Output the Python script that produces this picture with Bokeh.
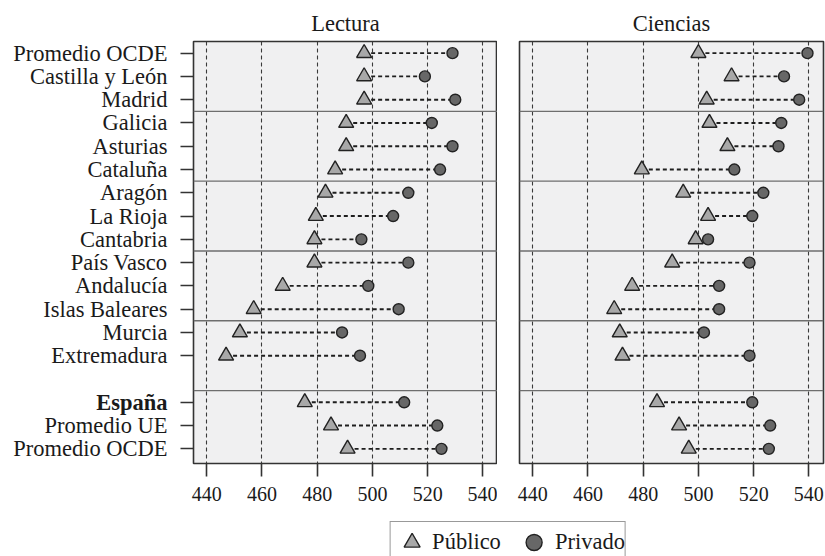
from bokeh.plotting import figure
from bokeh.layouts import column, row
from bokeh.models import Range1d, FixedTicker, Span
from bokeh.embed import file_html
from bokeh.resources import INLINE

# ---- data ----
groups = [
    ["Promedio OCDE", "Castilla y León", "Madrid"],
    ["Galicia", "Asturias", "Cataluña"],
    ["Aragón", "La Rioja", "Cantabria"],
    ["País Vasco", "Andalucía", "Islas Baleares"],
    ["Murcia", "Extremadura"],
    ["España", "Promedio UE", "Promedio OCDE"],
]
bold_label = "España"

lectura_publico = [497, 497, 497, 490.5, 490.5, 486.5, 483, 479.5, 479, 479, 467.5, 457, 452, 447, 475.5, 485, 491]
lectura_privado = [529, 519, 530, 521.5, 529, 524.5, 513, 507.5, 496, 513, 498.5, 509.5, 489, 495.5, 511.5, 523.5, 525]
ciencias_publico = [500, 512, 503, 504, 510.5, 479.5, 494.5, 503.5, 499, 490.5, 476, 469.5, 471.5, 472.5, 485, 493, 496.5]
ciencias_privado = [539.5, 531, 536.5, 530, 529, 513, 523.5, 519.5, 503.5, 518.5, 507.5, 507.5, 502, 518.5, 519.5, 526, 525.5]

x_ticks = [440, 460, 480, 500, 520, 540]
panel_titles = ["Lectura", "Ciencias"]
legend_labels = ["Público", "Privado"]

# ---- derived positions ----
names, ys = [], []
for g, grp in enumerate(groups):
    for i, n in enumerate(grp):
        names.append(n)
        ys.append(3 * g + i)
separators = [3 * g - 0.5 for g in range(1, len(groups))]

FONT = "Liberation Serif"
TXT = "#1a1a1a"
DARK = "#333333"
TOP, FRAME_H, BOTTOM = 41, 422, 52
PANEL_H = TOP + FRAME_H + BOTTOM

y_range = Range1d(17.63, -0.5)

# ---- y labels (separate strip, so one label can be bold) ----
p0 = figure(width=178, height=PANEL_H, x_range=Range1d(0, 1), y_range=y_range,
            output_backend="svg", toolbar_location=None, tools="",
            x_axis_location=None, y_axis_location=None,
            min_border_left=0, min_border_right=0,
            min_border_top=TOP, min_border_bottom=BOTTOM,
            outline_line_color=None)
p0.xgrid.grid_line_color = None
p0.ygrid.grid_line_color = None
for style in ["normal", "bold"]:
    sel = [k for k, n in enumerate(names) if (n == bold_label) == (style == "bold")]
    p0.text(x=[p0.x_range.end] * len(sel), y=[ys[k] for k in sel],
            text=[names[k] for k in sel], x_offset=-11,
            text_align="right", text_baseline="middle",
            text_font={"value": FONT}, text_font_size="22.5px",
            text_font_style=style, text_color=TXT)


def make_panel(title, pub, priv, left):
    p = figure(
        width=(15 + 304 + 0) if left else (22 + 304 + 2), height=PANEL_H,
        x_range=Range1d(435.2, 545.3), y_range=y_range,
        output_backend="svg", toolbar_location=None, tools="",
        min_border_left=15 if left else 22, min_border_right=0 if left else 2,
        min_border_top=TOP, min_border_bottom=BOTTOM,
        y_axis_location="left" if left else None,
        title=title,
    )
    p.title.text_font = FONT
    p.title.text_font_size = "22.5px"
    p.title.text_font_style = "normal"
    p.title.text_color = TXT
    p.title.align = "center"
    p.title.standoff = 12

    p.background_fill_color = "#f0f0f1"
    p.border_fill_color = "white"
    p.outline_line_color = DARK
    p.outline_line_width = 1.6

    p.xaxis.ticker = FixedTicker(ticks=x_ticks)
    p.xgrid.ticker = FixedTicker(ticks=x_ticks)
    p.xgrid.grid_line_color = "#3a3a3a"
    p.xgrid.grid_line_dash = "4 3"
    p.xgrid.grid_line_width = 1.1
    p.ygrid.grid_line_color = None

    axes = list(p.xaxis) + (list(p.yaxis) if left else [])
    for ax in axes:
        ax.axis_line_color = None
        ax.major_tick_out = 13
        ax.major_tick_in = 0
        ax.minor_tick_line_color = None
        ax.major_tick_line_color = DARK
        ax.major_tick_line_width = 1.6
        ax.major_label_text_font = FONT
        ax.major_label_text_color = TXT
    p.xaxis.major_label_text_font_size = "20px"
    p.xaxis.major_label_standoff = 10

    if left:
        p.yaxis.ticker = FixedTicker(ticks=ys)
        p.yaxis.major_label_standoff = 0
        p.yaxis.major_label_overrides = {y: "" for y in ys}

    for s in separators:
        p.add_layout(Span(location=s, dimension="width",
                          line_color="#6e6e6e", line_width=1.4))

    p.segment(x0=pub, y0=ys, x1=priv, y1=ys, line_color="#1e1e1e",
              line_width=1.9, line_dash="4 3")
    p.scatter(x=pub, y=ys, marker="triangle", size=15,
              fill_color="#a8a8a8", line_color="#222222", line_width=1.4)
    p.scatter(x=priv, y=ys, marker="circle", size=11,
              fill_color="#676767", line_color="#222222", line_width=1.4)
    return p


p1 = make_panel(panel_titles[0], lectura_publico, lectura_privado, True)
p2 = make_panel(panel_titles[1], ciencias_publico, ciencias_privado, False)

# ---- legend strip ----
p3 = figure(width=825, height=556 - PANEL_H, x_range=Range1d(435.2, 545.3),
            y_range=y_range,
            output_backend="svg", toolbar_location=None, tools="",
            x_axis_location=None, y_axis_location=None,
            min_border_left=190, min_border_right=0, min_border_top=0,
            min_border_bottom=0, outline_line_color=None)
p3.xgrid.grid_line_color = None
p3.ygrid.grid_line_color = None
p3.scatter(x=lectura_publico, y=ys, marker="triangle", fill_color="#a8a8a8",
           line_color="#222222", line_width=1.4, legend_label=legend_labels[0],
           visible=False)
p3.scatter(x=lectura_privado, y=ys, marker="circle", fill_color="#676767",
           line_color="#222222", line_width=1.4, legend_label=legend_labels[1],
           visible=False)
lg = p3.legend[0]
lg.location = "top_center"
lg.margin = 6
lg.orientation = "horizontal"
lg.padding = 0
lg.spacing = 12
lg.glyph_width = 42
lg.glyph_height = 40
lg.label_standoff = -3
lg.border_line_color = DARK
lg.border_line_width = 1.5
lg.label_text_font = FONT
lg.label_text_font_size = "22.5px"
lg.label_text_color = TXT
lg.background_fill_alpha = 1.0
lg.inactive_fill_alpha = 0.0

layout = column(row(p0, p1, p2), p3)
open("out.html", "w").write(file_html(layout, INLINE))
